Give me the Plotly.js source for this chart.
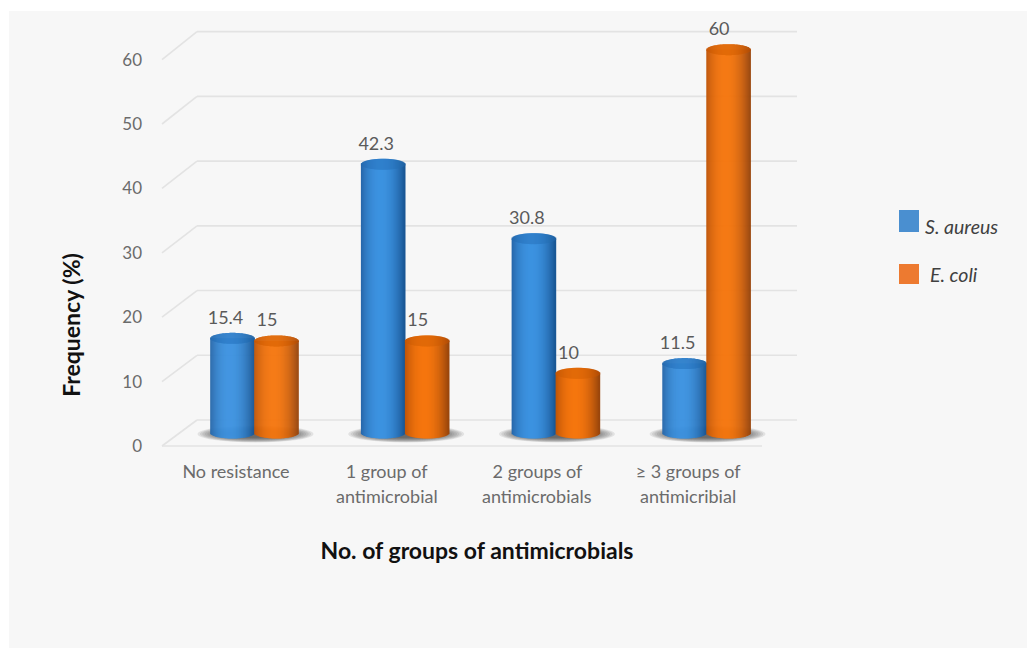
<!DOCTYPE html>
<html>
<head>
<meta charset="utf-8">
<script src="https://cdn.plot.ly/plotly-3.0.1.min.js"></script>
<style>
  html, body { margin: 0; padding: 0; background: #ffffff; }
  #panel { position: absolute; left: 9px; top: 11px; right: 0; bottom: 0; background: #f7f7f7; }
  #chart { position: absolute; left: 0; top: 0; width: 1027px; height: 648px; }
</style>
</head>
<body>
<div id="panel"></div>
<div id="chart"></div>
<script>
// Antimicrobial resistance frequency by organism
const categoryFirstLines = ['No resistance', '1 group of', '2 groups of', '\u2265 3 groups of'];
const categorySecondLines = ['', 'antimicrobial', 'antimicrobials', 'antimicribial'];
const aureusValues = [15.4, 42.3, 30.8, 11.5];
const coliValues = [15, 15, 10, 60];
const aureusLabels = ['15.4', '42.3', '30.8', '11.5'];
const coliLabels = ['15', '15', '10', '60'];
const yTicks = [0, 10, 20, 30, 40, 50, 60];

// Page geometry
const W = 1027, H = 648;
const M = { l: 146, r: 219, t: 20, b: 18 };
const plotW = W - M.l - M.r, plotH = H - M.t - M.b;
const pxX = 150.7;               // pixels per category
const pxY = 6.44;                // pixels per percentage point
const zeroX = 254.5, zeroY = 446;
const toPaperX = p => (p - M.l) / plotW;
const toPaperY = p => (H - M.b - p) / plotH;
const dx = p => p / pxX;
const dy = p => p / pxY;

// Cylinder proportions
const BAR_W = 44, CAP_H = 5.5, STRIP = 1;
const backScale = 1.005;
const topOf = v => v * backScale + dy(8);
const baseOf = dy(13);

function mix(a, b, t) {
  return a.map((c, i) => c + (b[i] - c) * t);
}
function rgb(c) {
  return 'rgb(' + c.map(Math.round).join(',') + ')';
}
// Horizontal shading across the curved side of a cylinder
function shade(u, edgeL, mid, edgeR) {
  const peak = -0.1;
  if (u < peak) {
    const t = (peak - u) / (1 + peak);
    return mix(mid, edgeL, Math.pow(t, 2.2));
  }
  const t = (u - peak) / (1 - peak);
  return mix(mid, edgeR, Math.pow(t, 2));
}

function cylinder(values, offset, name, side, cap) {
  const body = { x: [], base: [], y: [], color: [] };
  const top = { x: [], base: [], y: [], color: [] };
  const n = Math.round(BAR_W / STRIP);
  values.forEach((v, g) => {
    for (let k = 0; k < n; k++) {
      const u = (k + 0.5) / n * 2 - 1;
      const arc = dy(CAP_H) * Math.sqrt(1 - u * u);
      const xPos = g + dx(offset + u * BAR_W / 2);
      const bottom = baseOf - arc;
      body.x.push(xPos);
      body.base.push(bottom);
      body.y.push(topOf(v) - bottom);
      body.color.push(rgb(shade(u, side[0], side[1], side[2])));
      top.x.push(xPos);
      top.base.push(topOf(v) - arc);
      top.y.push(2 * arc);
      top.color.push(rgb(shade(u, cap[0], cap[1], cap[2])));
    }
  });
  const strip = part => ({
    type: 'bar', name, x: part.x, y: part.y, base: part.base,
    width: dx(STRIP * 1.6), marker: { color: part.color, line: { width: 0 } },
    hoverinfo: 'skip', showlegend: false
  });
  return [strip(body), strip(top)];
}

const blueSide = [[38, 102, 168], [60, 146, 224], [24, 84, 146]];
const blueCap = [[36, 104, 172], [48, 128, 204], [30, 96, 160]];
const orangeSide = [[190, 84, 8], [245, 118, 14], [150, 68, 12]];
const orangeCap = [[196, 86, 6], [226, 106, 8], [176, 76, 6]];

const groups = categoryFirstLines.map((_, i) => i);
const labelTrace = (values, labels, shift) => ({
  type: 'scatter', mode: 'text',
  x: groups.map(g => g + dx(shift)),
  y: values.map(v => topOf(v) + dy(19)),
  text: labels, textposition: 'middle center',
  textfont: { family: 'Lato, sans-serif', size: 18, color: '#5a5a5a' },
  hoverinfo: 'skip', showlegend: false
});

const traces = [
  ...cylinder(aureusValues, -22, 'S. aureus', blueSide, blueCap),
  ...cylinder(coliValues, 22, 'E. coli', orangeSide, orangeCap),
  labelTrace(aureusValues, aureusLabels, -29),
  labelTrace(coliValues, coliLabels, 12.5)
];

// Perspective wall and floor lines, all under the bars
const gridColor = '#e3e3e3';
const xFront = (162 - zeroX) / pxX, xCorner = (197 - zeroX) / pxX, xBack = (797 - zeroX) / pxX;
const xFloorEnd = (762 - zeroX) / pxX;
const shapes = [];
const seg = (x0, y0, x1, y1) => shapes.push({
  type: 'line', xref: 'x', yref: 'y', layer: 'below', x0, y0, x1, y1,
  line: { color: gridColor, width: 1.6 }
});
yTicks.forEach(t => {
  const back = t * backScale + dy(26);
  seg(xFront, t, xCorner, back);
  seg(xCorner, back, xBack, back);
});
seg(xFront, 0, xFloorEnd, 0);

// Soft floor shadow under each pair of bars
groups.forEach(g => {
  for (let s = 0; s < 12; s++) {
    const rx = 58 - s * 2.4, ry = 8.5 - s * 0.45;
    shapes.push({
      type: 'circle', xref: 'x', yref: 'y', layer: 'below',
      x0: g + dx(1 - rx), x1: g + dx(1 + rx),
      y0: dy(12) - dy(ry), y1: dy(12) + dy(ry),
      fillcolor: 'rgba(60,60,60,0.11)', line: { width: 0 }
    });
  }
});

// Legend swatches
const legendItems = [
  { box: [899, 919, 210, 232], color: '#4a8fd0', label: 'S. aureus', tx: 923, ty: 226 },
  { box: [899, 919, 264, 284], color: '#ed7a30', label: 'E. coli', tx: 928, ty: 274 }
];
legendItems.forEach(it => shapes.push({
  type: 'rect', xref: 'paper', yref: 'paper', layer: 'above',
  x0: toPaperX(it.box[0]), x1: toPaperX(it.box[1]),
  y0: toPaperY(it.box[3]), y1: toPaperY(it.box[2]),
  fillcolor: it.color, line: { width: 0 }
}));

const tickFont = { family: 'Lato, sans-serif', size: 18, color: '#6b6b6b' };
const valueFont = { family: 'Lato, sans-serif', size: 17, color: '#6b6b6b' };
const titleFont = { family: 'Lato, sans-serif', size: 23, color: '#111111', weight: 700 };
const tickShift = -18.5;

const annotations = [
  ...legendItems.map(it => ({
    xref: 'paper', yref: 'paper', x: toPaperX(it.tx), y: toPaperY(it.ty),
    xanchor: 'left', yanchor: 'middle', showarrow: false,
    text: '<i>' + it.label + '</i>',
    font: { family: 'Lato, sans-serif', size: 19.5, color: '#404040' }
  })),
  ...categorySecondLines.map((t, i) => ({
    xref: 'x', yref: 'y', x: i + dx(tickShift), y: dy(446 - 496),
    xanchor: 'center', yanchor: 'middle', showarrow: false, text: t, font: tickFont
  })).filter(a => a.text)
];

const layout = {
  width: W, height: H,
  margin: M,
  paper_bgcolor: 'rgba(0,0,0,0)',
  plot_bgcolor: 'rgba(0,0,0,0)',
  barmode: 'overlay',
  showlegend: false,
  xaxis: {
    range: [(M.l - zeroX) / pxX, (W - M.r - zeroX) / pxX],
    tickmode: 'array',
    tickvals: groups.map(g => g + dx(tickShift)),
    ticktext: categoryFirstLines,
    tickfont: tickFont,
    anchor: 'free',
    position: toPaperY(459),
    showgrid: false, zeroline: false, showline: false, ticks: '',
    automargin: false,
    title: { text: 'No. of groups of antimicrobials', font: titleFont, standoff: 61 }
  },
  yaxis: {
    range: [(zeroY - (H - M.b)) / pxY, (zeroY - M.t) / pxY],
    tickmode: 'array',
    tickvals: yTicks,
    tickfont: valueFont,
    ticklabelstandoff: 3,
    showgrid: false, zeroline: false, showline: false, ticks: '',
    automargin: false,
    title: { text: 'Frequency (%)', font: titleFont, standoff: 35 }
  },
  shapes,
  annotations
};

Plotly.newPlot('chart', traces, layout, { displayModeBar: false, staticPlot: true });
</script>
</body>
</html>
